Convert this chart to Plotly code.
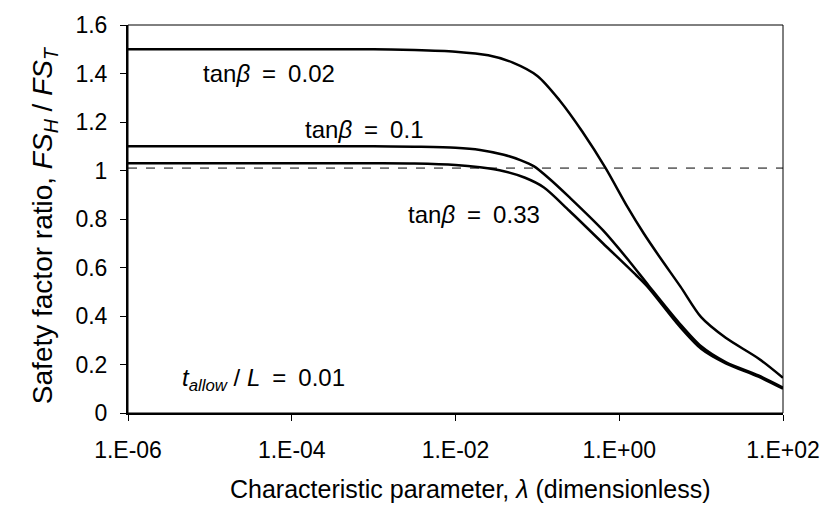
import plotly.graph_objects as go

# log10(lambda) and safety factor ratio FS_H / FS_T
loglam_002 = [-6, -4, -3, -2.5, -2, -1.6, -1.3, -1.0, -0.73, -0.45, -0.17,
              0.1, 0.3, 0.5, 0.75, 1.0, 1.3, 1.7, 2.0]
fs_002 = [1.5, 1.5, 1.5, 1.497, 1.49, 1.475, 1.445, 1.39, 1.29, 1.16, 1.012,
          0.85, 0.74, 0.64, 0.52, 0.395, 0.31, 0.225, 0.145]

loglam_01 = [-6, -4, -3, -2.5, -2.0, -1.7, -1.41, -1.2, -1.04, -0.85, -0.61,
             -0.2, 0.12, 0.36, 0.73, 1.0, 1.3, 1.7, 2.0]
fs_01 = [1.1, 1.1, 1.1, 1.098, 1.094, 1.085, 1.065, 1.042, 1.017, 0.965, 0.89,
         0.754, 0.627, 0.525, 0.372, 0.275, 0.21, 0.155, 0.105]

loglam_033 = [-6, -4, -3, -2.5, -2.0, -1.7, -1.41, -1.15, -0.92, -0.61, -0.2,
              0.21, 0.36, 0.73, 1.0, 1.3, 1.7, 2.0]
fs_033 = [1.03, 1.03, 1.03, 1.029, 1.023, 1.013, 0.997, 0.97, 0.93, 0.834, 0.70,
          0.567, 0.515, 0.36, 0.265, 0.205, 0.15, 0.10]

criterion = 1.01

x_tickvals = [1e-6, 1e-4, 1e-2, 1, 1e2]
x_ticktext = ["1.E-06", "1.E-04", "1.E-02", "1.E+00", "1.E+02"]
y_tickvals = [0, 0.2, 0.4, 0.6, 0.8, 1, 1.2, 1.4, 1.6]
y_ticktext = ["0", "0.2", "0.4", "0.6", "0.8", "1", "1.2", "1.4", "1.6"]

font = "Liberation Sans, Arial, sans-serif"
eq = "\u2002=\u2002"

fig = go.Figure()
for lx, ys in [(loglam_002, fs_002), (loglam_01, fs_01), (loglam_033, fs_033)]:
    fig.add_trace(go.Scatter(x=[10 ** v for v in lx], y=ys, mode="lines",
                             line=dict(color="black", width=2.5, shape="spline", smoothing=0.8),
                             showlegend=False))

# threshold line
fig.add_shape(type="line", xref="paper", x0=0, x1=1, yref="y", y0=criterion, y1=criterion,
              line=dict(color="black", width=1, dash="dash"))
# thin frame on top/right
fig.add_shape(type="rect", xref="paper", yref="paper", x0=0, x1=1, y0=0, y1=1,
              line=dict(color="black", width=1))

# annotation x in log10 units (log axis)
labels = [
    (-4.28, 1.40, "tan<i>β</i>" + eq + "0.02"),
    (-3.12, 1.17, "tan<i>β</i>" + eq + "0.1"),
    (-1.78, 0.818, "tan<i>β</i>" + eq + "0.33"),
    (-4.35, 0.14, "<i>t<sub>allow</sub></i> / <i>L</i>" + eq + "0.01"),
]
for x, y, txt in labels:
    fig.add_annotation(x=x, y=y, text=txt, showarrow=False,
                       font=dict(family=font, size=24, color="black"))

fig.add_annotation(xref="paper", yref="paper", x=0.523, y=-0.195, yanchor="middle",
                   text="Characteristic parameter, <i>λ</i> (dimensionless)", showarrow=False,
                   font=dict(family=font, size=25, color="black"))
fig.add_annotation(xref="paper", yref="paper", x=-0.156, y=0.485, textangle=-90,
                   text="Safety factor ratio, <i>FS<sub>H</sub></i> / <i>FS<sub>T</sub></i>",
                   showarrow=False, font=dict(family=font, size=28, color="black"))

fig.update_xaxes(type="log", range=[-6, 2], tickvals=x_tickvals, ticktext=x_ticktext,
                 ticks="outside", ticklen=6, tickwidth=1, tickcolor="black",
                 showline=True, linewidth=2, linecolor="black", showgrid=False, zeroline=False,
                 ticklabelstandoff=9, ticklabeloverflow="allow",
                 tickfont=dict(family=font, size=23, color="black"))
fig.update_yaxes(range=[0, 1.6], tickvals=y_tickvals, ticktext=y_ticktext,
                 ticks="outside", ticklen=6, tickwidth=1, tickcolor="black",
                 showline=True, linewidth=2, linecolor="black", showgrid=False, zeroline=False,
                 ticklabelstandoff=8, ticklabeloverflow="allow",
                 tickfont=dict(family=font, size=23, color="black"))

fig.update_layout(width=832, height=510, margin=dict(l=128, r=44, t=13, b=97),
                  plot_bgcolor="white", paper_bgcolor="white")

fig.write_html("out.html", config={"displayModeBar": False},
               post_script="document.body.style.margin='0';")
